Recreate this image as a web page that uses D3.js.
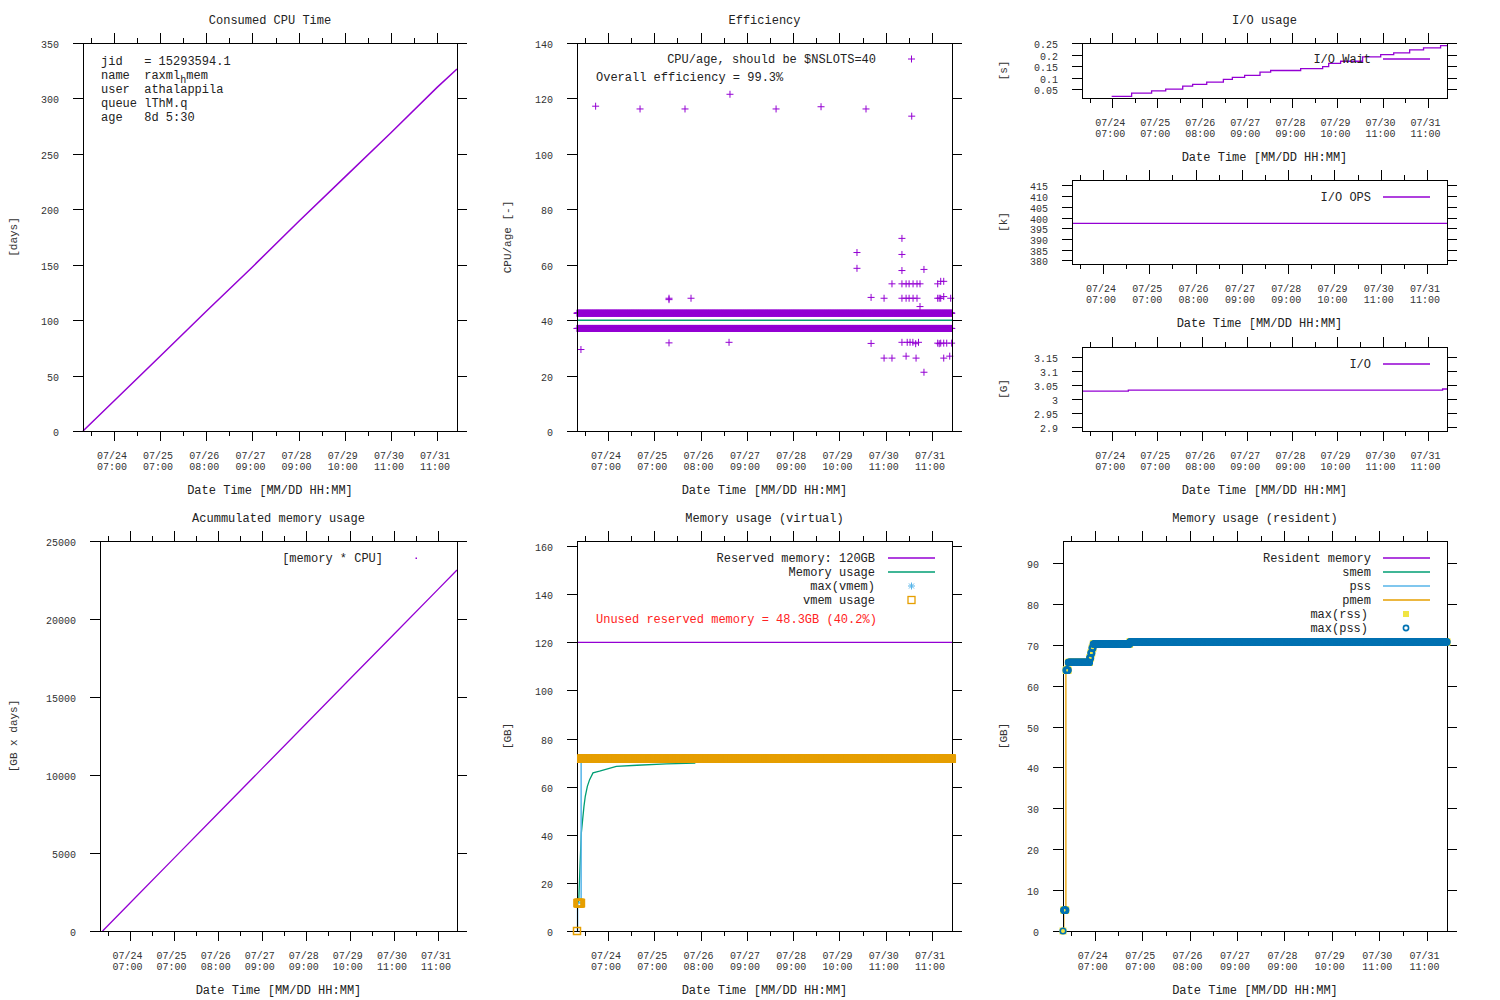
<!DOCTYPE html>
<html><head><meta charset="utf-8">
<script src="https://cdn.jsdelivr.net/npm/d3@7"></script>
<style>
body{margin:0;background:#fff}
text{font-family:"Liberation Mono",monospace;fill:#222;white-space:pre}
</style></head><body>
<svg id="c" width="1500" height="1000"></svg>
<script>
// ---------- data (hours since job start; job age 8d 5:30 shown) ----------
const HOURS_END = 199.3;
const xTickHours = [16.5, 41.1, 65.7, 90.3, 114.9, 139.5, 164.1, 188.7];
const xTickLabels = [["07/24","07:00"],["07/25","07:00"],["07/26","08:00"],["07/27","09:00"],["07/28","09:00"],["07/29","10:00"],["07/30","11:00"],["07/31","11:00"]];

const cpuHours = [0, 16.5, 41.1, 65.7, 90.3, 114.9, 139.5, 164.1, 188.7, 199.3];
const cpuDays  = [0, 27, 67.5, 108, 148, 189, 229, 269, 310, 326.6];

const effBandHigh = 42.5, effBandLow = 37.0, effTarget = 40;
const effOutHours = [9.9,33.5,57.4,81.3,105.8,129.7,153.6,177.9,48.9,48.9,60.6,48.9,80.8,2.1,148.8,148.8,156.3,156.3,163.2,163.2,167.4,167.4,172.7,172.7,172.7,172.7,172.7,172.7,174.9,174.9,174.9,176.5,178.6,180.7,182.3,176.5,178.6,180.7,175.5,177,178.5,180,181.5,182.3,184.4,184.4,180.2,191.7,193.3,194.9,191.7,192.5,193.3,194.9,198.6,191.7,192.5,193.3,194.9,196.5,199.1,194.9,198.1];
const effOutVals  = [117.2,116.2,116.2,121.5,116.2,117,116.2,113.6,47.9,47.4,47.9,31.8,32,29.4,64.4,58.7,48.2,31.6,47.9,26.3,53.1,26.3,69.5,63.7,57.9,53.1,47.9,32,53.1,47.9,27,53.1,53.1,53.1,53.1,47.9,47.9,47.9,32,32,32,31.5,32,44.9,58.3,21.2,26.3,53.1,54,54,47.9,47.9,47.9,48.5,47.9,31.7,31.5,31.7,31.7,31.7,31.7,26.3,27];

const ioWaitHours = [16.2,27.1,38.0,45.7,55.0,60.4,68.1,77.2,82.1,88.8,97.2,103.0,119.4,131.4,134.7,141.2,153.2,163.1,170.2,178.9,186.5,195.8,199.3];
const ioWaitVals  = [0.0188,0.033,0.043,0.05,0.063,0.071,0.081,0.093,0.101,0.11,0.124,0.131,0.139,0.148,0.162,0.171,0.19,0.2,0.207,0.22,0.229,0.239,0.239];
const ioOpsHours = [0, 199.3], ioOpsVals = [397.3, 397.3];
const ioHours = [0, 25.3, 196.9, 199.3], ioVals = [3.0286, 3.032, 3.036, 3.036];

const accHours = [1.45, 16.5, 41.1, 65.7, 90.3, 114.9, 139.5, 164.1, 188.7, 199.3];
const accVals  = [0, 1760, 4637, 7514, 10390, 13270, 16150, 19020, 21900, 23140];

const vmemUsageHours = [0, 0.3, 2.2], vmemUsageVals = [0, 11.6, 71.6];
const vmemMaxHours = [0, 0.3, 2.2, 33, 199.3], vmemMaxVals = [0, 11.6, 71.9, 72.9, 72.9];
const memUsageHours = [0.9,1.6,2.3,3.0,3.7,4.4,5.5,6.7,8.5,12.0,20.9,31.9,47.5,62.9];
const memUsageVals  = [11.6,26.9,40.7,46.3,51.8,56,60.1,62.9,65.7,66.4,68.4,68.9,69.5,69.8];
const reservedMem = 120;

const pssHours = [0, 0.4, 1.5, 2.7, 13.9, 14.5, 15.0, 15.6, 34.6];
const pssVals  = [0, 5.1, 63.8, 65.7, 66.8, 68.0, 69.2, 70.2, 70.7];
const sampleStepH = 0.15;

// ---------- helpers ----------
const svg = d3.select("#c");
const PURPLE="#9400d3", GREEN="#009e73", LBLUE="#56b4e9", ORANGE="#e69f00", YELLOW="#f0e442", BLUE="#0072b2";
function stepVal(hs, vs, h){ let v=vs[0]; for(let i=0;i<hs.length;i++){ if(h>=hs[i]) v=vs[i]; } return v; }
function samples(from,to){ const a=[]; for(let h=from; h<=to+1e-9; h+=sampleStepH) a.push(h); return a; }

function panel(c){
  const g = svg.append("g");
  const x = d3.scaleLinear().domain([0,HOURS_END]).range([c.l,c.r]);
  const y = d3.scaleLinear().domain(c.yd).range([c.b,c.t]);
  const interval = xTickHours[1]-xTickHours[0];
  const minors = xTickHours.map(h=>h-interval/2).concat([xTickHours[xTickHours.length-1]+interval/2]).filter(h=>h>=0&&h<=HOURS_END);
  const tk = g.append("g").attr("stroke","#000").attr("stroke-width",1);
  xTickHours.forEach(h=>{const X=Math.round(x(h))+.5; tk.append("line").attr("x1",X).attr("x2",X).attr("y1",c.b).attr("y2",c.b+10); tk.append("line").attr("x1",X).attr("x2",X).attr("y1",c.t).attr("y2",c.t-10);});
  minors.forEach(h=>{const X=Math.round(x(h))+.5; tk.append("line").attr("x1",X).attr("x2",X).attr("y1",c.b).attr("y2",c.b+5); tk.append("line").attr("x1",X).attr("x2",X).attr("y1",c.t).attr("y2",c.t-5);});
  c.yt.forEach((v,i)=>{const Y=Math.round(y(v))+.5; tk.append("line").attr("x1",c.l-10).attr("x2",c.l).attr("y1",Y).attr("y2",Y); tk.append("line").attr("x1",c.r).attr("x2",c.r+10).attr("y1",Y).attr("y2",Y);
    g.append("text").attr("x",c.l-24).attr("y",Y+4).attr("text-anchor","end").attr("font-size",10).style("fill","#333").text(c.ytl?c.ytl[i]:v);});
  xTickHours.forEach((h,i)=>{const X=x(h)-2;
    g.append("text").attr("x",X).attr("y",c.b+28).attr("text-anchor","middle").attr("font-size",10).style("fill","#333").text(xTickLabels[i][0]);
    g.append("text").attr("x",X).attr("y",c.b+39).attr("text-anchor","middle").attr("font-size",10).style("fill","#333").text(xTickLabels[i][1]);});
  g.append("text").attr("x",(c.l+c.r)/2).attr("y",c.b+63).attr("text-anchor","middle").attr("font-size",12).text("Date Time [MM/DD HH:MM]");
  if(c.title) g.append("text").attr("x",(c.l+c.r)/2).attr("y",c.t-19).attr("text-anchor","middle").attr("font-size",12).text(c.title);
  g.append("text").attr("transform",`translate(${c.yx},${(c.t+c.b)/2}) rotate(-90)`).attr("text-anchor","middle").attr("font-size",11).style("fill","#333").text(c.yl);
  const plot = g.append("g");
  g.append("rect").attr("x",c.l+.5).attr("y",c.t+.5).attr("width",c.r-c.l).attr("height",c.b-c.t).attr("fill","none").attr("stroke","#000");
  return {g:plot, top:g, x, y, c};
}
function legendLine(P,txt,yy,color,tx,lx1,lx2){
  P.top.append("text").attr("x",tx).attr("y",yy+4).attr("text-anchor","end").attr("font-size",12).text(txt);
  if(color) P.top.append("line").attr("x1",lx1).attr("x2",lx2).attr("y1",yy).attr("y2",yy).attr("stroke",color).attr("stroke-width",1.5);
}
function plusPath(pts,s){ return pts.map(([X,Y])=>`M${X-s},${Y}H${X+s}M${X},${Y-s}V${Y+s}`).join(""); }

// ---------- Panel 1: Consumed CPU ----------
{
  const P = panel({l:83,r:457,t:43,b:431,yd:[0,350],yt:[0,50,100,150,200,250,300,350],title:"Consumed CPU Time",yl:"[days]",yx:17});
  P.g.append("path").attr("d",d3.line().x((d,i)=>P.x(cpuHours[i])).y(d=>P.y(d))(cpuDays)).attr("fill","none").attr("stroke",PURPLE).attr("stroke-width",1.5);
  const info = P.top.append("g").attr("font-size",12);
  const lines=["jid   = 15293594.1",null,"user  athalappila","queue lThM.q","age   8d 5:30"];
  lines.forEach((s,i)=>{ const t=info.append("text").attr("x",101).attr("y",65+14*i).attr("font-size",12);
    if(s) t.text(s); else { t.append("tspan").text("name  raxml"); t.append("tspan").attr("dy",4).attr("font-size",10).text("h"); t.append("tspan").attr("dy",-4).text("mem"); } });
}
// ---------- Panel 2: Efficiency ----------
{
  const P = panel({l:577,r:952,t:43,b:431,yd:[0,140],yt:[0,20,40,60,80,100,120,140],title:"Efficiency",yl:"CPU/age [-]",yx:511});
  const hs = samples(0,HOURS_END);
  P.g.append("path").attr("d",plusPath(hs.map(h=>[P.x(h),P.y(effBandHigh)]),3.5)).attr("stroke",PURPLE).attr("stroke-width",1).attr("fill","none");
  P.g.append("path").attr("d",plusPath(hs.map(h=>[P.x(h),P.y(effBandLow)]),3.5)).attr("stroke",PURPLE).attr("stroke-width",1).attr("fill","none");
  P.g.append("path").attr("d",plusPath(effOutHours.map((h,i)=>[P.x(h),P.y(effOutVals[i])]),3.5)).attr("stroke",PURPLE).attr("stroke-width",1).attr("fill","none");
  P.g.append("line").attr("x1",P.x(0)).attr("x2",P.x(HOURS_END)).attr("y1",P.y(effTarget)).attr("y2",P.y(effTarget)).attr("stroke",GREEN).attr("stroke-width",1.5);
  legendLine(P,"CPU/age, should be $NSLOTS=40",59,null,876);
  P.top.append("path").attr("d",plusPath([[911.5,59]],3.5)).attr("stroke",PURPLE).attr("fill","none");
  P.top.append("text").attr("x",596).attr("y",81).attr("font-size",12).text("Overall efficiency = 99.3%");
}
// ---------- Panels 3-5: I/O ----------
{
  const P = panel({l:1082,r:1447,t:43,b:98,yd:[0.012,0.25],yt:[0.05,0.1,0.15,0.2,0.25],ytl:["0.05","0.1","0.15","0.2","0.25"],title:"I/O usage",yl:"[s]",yx:1007});
  P.g.append("path").attr("d",d3.line().curve(d3.curveStepAfter).x((d,i)=>P.x(ioWaitHours[i])).y(d=>P.y(d))(ioWaitVals)).attr("fill","none").attr("stroke",PURPLE).attr("stroke-width",1.3);
  legendLine(P,"I/O Wait",59,PURPLE,1371,1383,1430);
}
{
  const P = panel({l:1072,r:1447,t:180,b:264,yd:[378.3,417.5],yt:[380,385,390,395,400,405,410,415],yl:"[k]",yx:1007});
  P.g.append("path").attr("d",d3.line().x((d,i)=>P.x(ioOpsHours[i])).y(d=>P.y(d))(ioOpsVals)).attr("fill","none").attr("stroke",PURPLE).attr("stroke-width",1.3);
  legendLine(P,"I/O OPS",197,PURPLE,1371,1383,1430);
}
{
  const P = panel({l:1082,r:1447,t:347,b:431,yd:[2.886,3.186],yt:[2.9,2.95,3,3.05,3.1,3.15],ytl:["2.9","2.95","3","3.05","3.1","3.15"],yl:"[G]",yx:1007});
  P.g.append("path").attr("d",d3.line().curve(d3.curveStepAfter).x((d,i)=>P.x(ioHours[i])).y(d=>P.y(d))(ioVals)).attr("fill","none").attr("stroke",PURPLE).attr("stroke-width",1.3);
  legendLine(P,"I/O",364,PURPLE,1371,1383,1430);
}
// ---------- Panel 6: Accumulated memory ----------
{
  const P = panel({l:100,r:457,t:541,b:931,yd:[0,25000],yt:[0,5000,10000,15000,20000,25000],title:"Acummulated memory usage",yl:"[GB x days]",yx:17});
  P.g.append("path").attr("d",d3.line().x((d,i)=>P.x(accHours[i])).y(d=>P.y(d))(accVals)).attr("fill","none").attr("stroke",PURPLE).attr("stroke-width",1.3);
  legendLine(P,"[memory * CPU]",558,null,383);
  P.top.append("rect").attr("x",415.5).attr("y",557.5).attr("width",1.5).attr("height",1.5).attr("fill",PURPLE);
}
// ---------- Panel 7: Virtual memory ----------
{
  const P = panel({l:577,r:952,t:541,b:931,yd:[0,162.1],yt:[0,20,40,60,80,100,120,140,160],title:"Memory usage (virtual)",yl:"[GB]",yx:511});
  P.g.append("line").attr("x1",P.x(0)).attr("x2",P.x(HOURS_END)).attr("y1",P.y(reservedMem)).attr("y2",P.y(reservedMem)).attr("stroke",PURPLE).attr("stroke-width",1.3);
  P.g.append("path").attr("d",d3.line().x((d,i)=>P.x(memUsageHours[i])).y(d=>P.y(d))(memUsageVals)).attr("fill","none").attr("stroke",GREEN).attr("stroke-width",1.3);
  P.g.append("path").attr("d",d3.line().curve(d3.curveStepAfter).x((d,i)=>P.x(vmemMaxHours[i])).y(d=>P.y(d))(vmemMaxVals)).attr("fill","none").attr("stroke",LBLUE).attr("stroke-width",1.5);
  const hs=[0].concat(samples(0.3,HOURS_END));
  P.top.append("g").selectAll("rect").data(hs).join("rect")
    .attr("x",h=>P.x(h)-3.5).attr("y",h=>P.y(stepVal(vmemUsageHours,vmemUsageVals,h))-3.5).attr("width",7).attr("height",7)
    .attr("fill","none").attr("stroke",ORANGE).attr("stroke-width",1.5);
  legendLine(P,"Reserved memory: 120GB",558,PURPLE,875,888,935);
  legendLine(P,"Memory usage",572,GREEN,875,888,935);
  legendLine(P,"max(vmem)",586,null,875);
  P.top.append("path").attr("d","M908,586H915M911.5,582.5V589.5M909,583.5L914,588.5M914,583.5L909,588.5").attr("stroke",LBLUE).attr("fill","none");
  legendLine(P,"vmem usage",600,null,875);
  P.top.append("rect").attr("x",908).attr("y",596.5).attr("width",7).attr("height",7).attr("fill","none").attr("stroke",ORANGE).attr("stroke-width",1.3);
  P.top.append("text").attr("x",596).attr("y",623).attr("font-size",12).style("fill","#f22").text("Unused reserved memory = 48.3GB (40.2%)");
}
// ---------- Panel 8: Resident memory ----------
{
  const P = panel({l:1063,r:1447,t:541,b:931,yd:[0,95.4],yt:[0,10,20,30,40,50,60,70,80,90],title:"Memory usage (resident)",yl:"[GB]",yx:1007});
  P.g.append("path").attr("d",d3.line().curve(d3.curveStepAfter).x((d,i)=>P.x(pssHours[i])).y(d=>P.y(d))(pssVals.concat([pssVals[pssVals.length-1]]).slice(0,pssVals.length))).attr("fill","none").attr("stroke",ORANGE).attr("stroke-width",1.3);
  const hs=[0].concat(samples(0.4,HOURS_END));
  const mk = P.top.append("g");
  mk.selectAll("rect").data(hs).join("rect").attr("x",h=>P.x(h)-3.5).attr("y",h=>P.y(stepVal(pssHours,pssVals,h))-3.5).attr("width",7).attr("height",7).attr("fill",YELLOW);
  mk.selectAll("circle").data(hs).join("circle").attr("cx",h=>P.x(h)).attr("cy",h=>P.y(stepVal(pssHours,pssVals,h))).attr("r",2.8).attr("fill","none").attr("stroke",BLUE).attr("stroke-width",1.6);
  legendLine(P,"Resident memory",558,PURPLE,1371,1383,1430);
  legendLine(P,"smem",572,GREEN,1371,1383,1430);
  legendLine(P,"pss",586,LBLUE,1371,1383,1430);
  legendLine(P,"pmem",600,ORANGE,1371,1383,1430);
  legendLine(P,"max(rss)",614,null,1368);
  P.top.append("rect").attr("x",1403).attr("y",611).attr("width",6).attr("height",6).attr("fill",YELLOW);
  legendLine(P,"max(pss)",628,null,1368);
  P.top.append("circle").attr("cx",1406).attr("cy",628).attr("r",2.6).attr("fill","none").attr("stroke",BLUE).attr("stroke-width",1.6);
}
</script></body></html>
